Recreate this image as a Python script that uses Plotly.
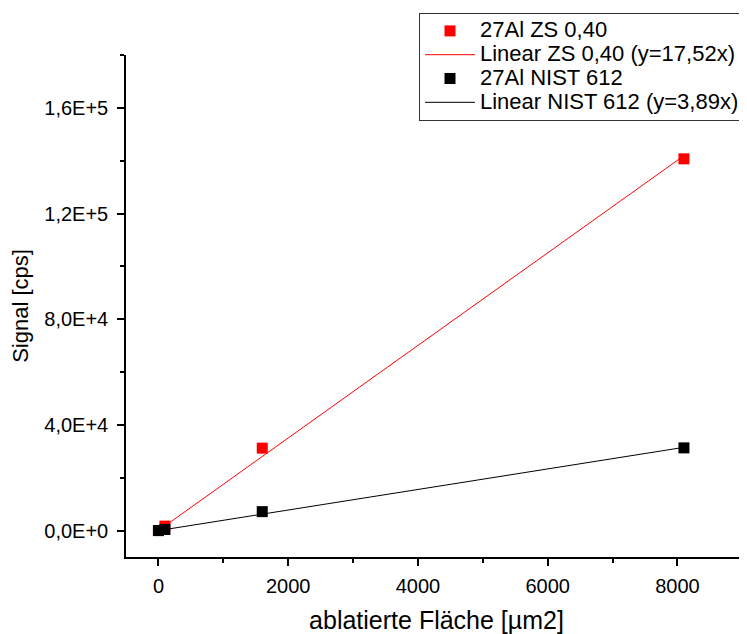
import plotly.graph_objects as go

# data
area = [0, 100, 1600, 8100]
signal_zs = [0, 1700, 31200, 140700]
signal_nist = [0, 400, 7170, 31300]

fit_x_zs = [100, 8100]
fit_y_zs = [1752, 141912]
fit_x_nist = [0, 8100]
fit_y_nist = [0, 31509]

x_tickvals = [0, 2000, 4000, 6000, 8000]
x_ticktext = ["0", "2000", "4000", "6000", "8000"]
y_tickvals = [0, 40000, 80000, 120000, 160000]
y_ticktext = ["0,0E+0", "4,0E+4", "8,0E+4", "1,2E+5", "1,6E+5"]

names = ["27Al ZS 0,40", "Linear ZS 0,40 (y=17,52x)",
         "27Al NIST 612", "Linear NIST 612 (y=3,89x)"]

font = "Liberation Sans, Arial, sans-serif"


def lg(t):
    return f"<span style='font-size:22px'>{t}</span>"


W, H = 739, 626

fig = go.Figure()
fig.add_trace(go.Scatter(x=fit_x_zs, y=fit_y_zs, mode="lines",
                         line=dict(color="#FF0000", width=1),
                         name=lg(names[1]), legendrank=2))
fig.add_trace(go.Scatter(x=fit_x_nist, y=fit_y_nist, mode="lines",
                         line=dict(color="#000000", width=1),
                         name=lg(names[3]), legendrank=4))
fig.add_trace(go.Scatter(x=area, y=signal_zs, mode="markers",
                         marker=dict(symbol="square", size=11, color="#FF0000"),
                         name=lg(names[0]), legendrank=1))
fig.add_trace(go.Scatter(x=area, y=signal_nist, mode="markers",
                         marker=dict(symbol="square", size=11, color="#000000"),
                         name=lg(names[2]), legendrank=3))

fig.update_layout(
    width=W, height=H,
    margin=dict(l=118, r=0, t=47, b=77, autoexpand=False),
    paper_bgcolor="white", plot_bgcolor="white",
    font=dict(family=font, color="black"),
    showlegend=True,
    legend=dict(x=411 / W, y=1 - 5 / H, xref="container", yref="container",
                xanchor="left", yanchor="top",
                bordercolor="#333333", borderwidth=1, bgcolor="white",
                font=dict(size=16, family=font), tracegroupgap=0,
                itemwidth=50),
)
fig.update_xaxes(
    range=[-500, 9072], showgrid=False, zeroline=False, automargin=False,
    showline=True, linecolor="black", linewidth=1.5,
    ticks="outside", ticklen=7, tickwidth=1.5, tickcolor="black",
    tickvals=x_tickvals, ticktext=x_ticktext, ticklabelstandoff=3,
    tickfont=dict(size=20, family=font),
    minor=dict(dtick=1000, tick0=0, ticks="outside", ticklen=4, tickwidth=1.5,
               tickcolor="black", showgrid=False),
    title=dict(text="ablatierte Fläche [µm2]", font=dict(size=25, family=font), standoff=21),
)
fig.update_yaxes(
    range=[-10000, 180000], showgrid=False, zeroline=False, automargin=False,
    showline=True, linecolor="black", linewidth=1.5,
    ticks="outside", ticklen=7, tickwidth=1.5, tickcolor="black",
    tickvals=y_tickvals, ticktext=y_ticktext, ticklabelstandoff=5,
    tickfont=dict(size=20, family=font),
    minor=dict(dtick=20000, tick0=0, ticks="outside", ticklen=4, tickwidth=1.5,
               tickcolor="black", showgrid=False),
    title=dict(text="Signal [cps]", font=dict(size=22, family=font), standoff=18),
)

fig.write_html("out.html")
